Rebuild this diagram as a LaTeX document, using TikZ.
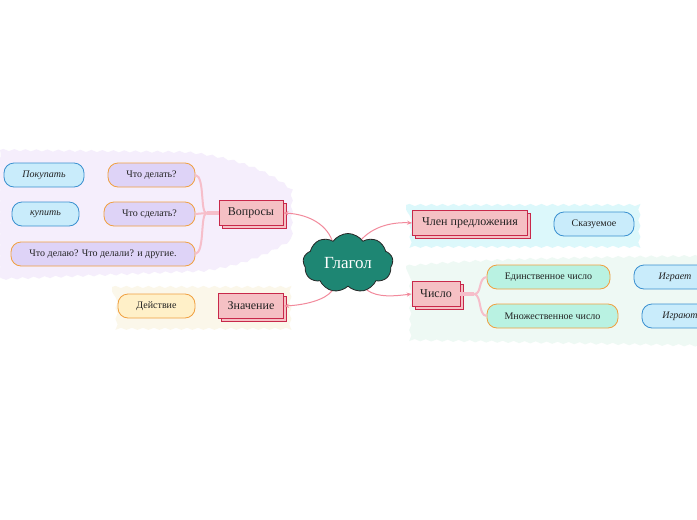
\documentclass[tikz,border=0pt]{standalone}
\usepackage{fontspec}
\setmainfont{Liberation Serif}
\usetikzlibrary{shapes.symbols,shadows,arrows.meta,decorations.pathmorphing}
\definecolor{bgLav}{HTML}{F5EEFC}
\definecolor{bgCyan}{HTML}{DCF8FB}
\definecolor{bgMint}{HTML}{EEF9F4}
\definecolor{bgCream}{HTML}{FBF7EA}
\definecolor{mainFill}{HTML}{F5C0C4}
\definecolor{mainDraw}{HTML}{C8284A}
\definecolor{lavFill}{HTML}{DED3F7}
\definecolor{blueFill}{HTML}{C9ECFB}
\definecolor{blueDraw}{HTML}{3A90D0}
\definecolor{orDraw}{HTML}{F0A040}
\definecolor{mintFill}{HTML}{B9F2E2}
\definecolor{creamFill}{HTML}{FFF0C8}
\definecolor{cloudFill}{HTML}{1E8673}
\definecolor{connCol}{HTML}{F28A9C}
\definecolor{branchCol}{HTML}{F6BECA}
\definecolor{txt}{HTML}{222222}
\tikzset{
  wavy/.style={decorate,decoration={snake,amplitude=1.1pt,segment length=11pt}},
  mainbox/.style={draw=mainDraw,fill=mainFill,line width=0.8pt,minimum height=25pt,
    inner sep=2pt,font=\fontsize{12}{14}\selectfont,text=txt,
    copy shadow={shadow xshift=3pt,shadow yshift=-3pt}},
  leaf/.style={rounded corners=10pt,line width=0.8pt,minimum height=24pt,inner sep=2pt,
    font=\fontsize{10}{12}\selectfont,text=txt},
  lavleaf/.style={leaf,fill=lavFill,draw=orDraw},
  blueleaf/.style={leaf,fill=blueFill,draw=blueDraw},
  mintleaf/.style={leaf,fill=mintFill,draw=orDraw},
  creamleaf/.style={leaf,fill=creamFill,draw=orDraw},
  itleaf/.style={font=\fontsize{10}{12}\selectfont\itshape},
  conn/.style={draw=connCol,line width=1pt,-{Stealth[length=5pt,width=4pt]}},
  branch/.style={draw=branchCol,line width=2pt},
  hub/.style={draw=branchCol,line width=3.5pt}
}
\begin{document}
\begin{tikzpicture}[x=1pt,y=-1pt]
\useasboundingbox (0,0) rectangle (697,520);
\fill[white] (0,0) rectangle (697,520);
% background blobs
\fill[bgLav,wavy] (0,150) -- (180,152) .. controls (230,156) and (270,172) .. (291,192)
  -- (291,238) .. controls (260,258) and (230,266) .. (200,270) -- (0,278) -- cycle;
\fill[bgCyan,wavy] (406,205) -- (640,205) -- (640,245) -- (406,245) -- cycle;
\fill[bgMint,wavy] (406,266) .. controls (450,262) and (500,258) .. (720,256)
  -- (720,342) -- (406,336) -- cycle;
\fill[bgCream,wavy] (112,287) -- (291,287) -- (291,327) -- (112,327) -- cycle;
% central cloud
\node[cloud,cloud puffs=9,cloud puff arc=110,aspect=1.6,fill=cloudFill,draw=black!85,
  line width=0.8pt,minimum width=90pt,minimum height=58pt,text=white,
  font=\fontsize{17}{20}\selectfont] (g) at (348,263) {Глагол};
% main boxes
\node[mainbox,minimum width=64pt] (vq) at (251,213) {Вопросы};
\node[mainbox,minimum width=115pt] (cp) at (470,223) {Член предложения};
\node[mainbox,minimum width=48pt] (ch) at (436,294) {Число};
\node[mainbox,minimum width=65pt] (zn) at (251,306) {Значение};
% leaves
\node[lavleaf,minimum width=87pt] (q1) at (151.5,175) {Что делать?};
\node[lavleaf,minimum width=91pt] (q2) at (149.5,214) {Что сделать?};
\node[lavleaf,minimum width=184pt] (q3) at (103,254) {Что делаю? Что делали? и другие.};
\node[blueleaf,itleaf,minimum width=80pt] (p1) at (44,175) {Покупать};
\node[blueleaf,itleaf,minimum width=67pt] (p2) at (45.5,214) {купить};
\node[blueleaf,minimum width=80pt] (sk) at (594,224) {Сказуемое};
\node[mintleaf,minimum width=123pt] (e1) at (548.5,277) {Единственное число};
\node[mintleaf,minimum width=131pt] (e2) at (552.5,316) {Множественное число};
\node[blueleaf,itleaf,minimum width=82pt] (i1) at (675,277) {Играет};
\node[blueleaf,itleaf,minimum width=76pt] (i2) at (680,316) {Играют};
\node[creamleaf,minimum width=77pt] (ds) at (156.5,306) {Действие};
% connectors from cloud
\draw[conn] (g.125) .. controls (325,222) and (305,214) .. (vq.east);
\draw[conn] (g.60) .. controls (375,225) and (395,222) .. (cp.west);
\draw[conn] (g.-55) .. controls (378,298) and (395,296) .. (ch.west);
\draw[conn] (g.-120) .. controls (325,300) and (305,305) .. (zn.east);
% branches Вопросы
\draw[hub] (vq.west) -- ++(-12,0) coordinate (hq);
\draw[branch] (hq) .. controls (200,214) and (205,176) .. (q1.east);
\draw[branch] (hq) -- (q2.east);
\draw[branch] (hq) .. controls (200,214) and (205,252) .. (q3.east);
% branches Число
\draw[hub] (ch.east) -- ++(14,0) coordinate (hc);
\draw[branch] (hc) .. controls (482,294) and (478,278) .. (e1.west);
\draw[branch] (hc) .. controls (482,296) and (478,315) .. (e2.west);
\end{tikzpicture}
\end{document}
